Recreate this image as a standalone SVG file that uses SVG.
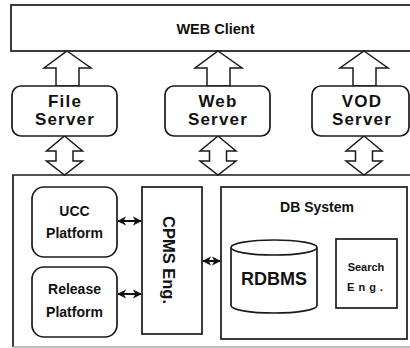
<svg xmlns="http://www.w3.org/2000/svg" width="410" height="348" viewBox="0 0 410 348">
<defs>
<marker id="ah" viewBox="0 0 10 10" refX="9" refY="5" markerWidth="4.6" markerHeight="4.6" orient="auto-start-reverse" markerUnits="strokeWidth">
<path d="M0,0 L10,5 L0,10 L3,5 Z" fill="#111"/>
</marker>
</defs>
<style>
.box{fill:#fff;stroke:#1a1a1a;stroke-width:1.7}
.hol{fill:#fff;stroke:#1a1a1a;stroke-width:1.5;stroke-linejoin:miter}
.lnk{stroke:#111;stroke-width:2;fill:none;marker-start:url(#ah);marker-end:url(#ah)}
text{font-family:"Liberation Sans",Arial,sans-serif;font-weight:bold;fill:#111;text-anchor:middle}
.srv{font-size:17px;letter-spacing:1.2px}
.plt{font-size:14px}
</style>
<rect width="410" height="348" fill="#fff"/>

<g id="web-client">
<rect class="box" x="11" y="5" width="410" height="46"/>
<text x="215.5" y="34" style="font-size:14.5px">WEB Client</text>
</g>

<g id="connectors">
<path class="hol" d="M67,51 L91,68 L79,68 L79,86 L56,86 L56,68 L44,68 Z"/>
<path class="hol" d="M218,51 L242,68 L230,68 L230,86 L207,86 L207,68 L195,68 Z"/>
<path class="hol" d="M364,51 L388,68 L376,68 L376,86 L353,86 L353,68 L340,68 Z"/>
<path class="hol" d="M64.5,136 L82.5,151 L73,151 L73,161 L82.5,161 L64.5,175 L46.5,161 L56,161 L56,151 L46.5,151 Z"/>
<path class="hol" d="M218,136 L236,151 L226.5,151 L226.5,161 L236,161 L218,175 L200,161 L209.5,161 L209.5,151 L200,151 Z"/>
<path class="hol" d="M364,136 L382,151 L372.5,151 L372.5,161 L382,161 L364,175 L346,161 L355.5,161 L355.5,151 L346,151 Z"/>
<line class="lnk" x1="118" y1="221" x2="141" y2="221"/>
<line class="lnk" x1="118" y1="294" x2="141" y2="294"/>
<line class="lnk" x1="203" y1="261" x2="220" y2="261"/>
<line class="lnk" x1="318" y1="270" x2="335" y2="270"/>
</g>

<g id="file-server">
<rect class="box" x="12" y="86" width="105" height="50" rx="9"/>
<text class="srv" x="65" y="107">File</text>
<text class="srv" x="65" y="125">Server</text>
</g>
<g id="web-server">
<rect class="box" x="165" y="86" width="105" height="50" rx="9"/>
<text class="srv" x="218" y="107">Web</text>
<text class="srv" x="218" y="125">Server</text>
</g>
<g id="vod-server">
<rect class="box" x="312" y="86" width="97" height="50" rx="9"/>
<text class="srv" x="362" y="107">VOD</text>
<text class="srv" x="362" y="125">Server</text>
</g>

<g id="platform-frame">
<path d="M13,347 L13,175 L412,175" fill="none" stroke="#1a1a1a" stroke-width="1.7"/>
<line x1="13" y1="347" x2="410" y2="347" stroke="#aaa" stroke-width="1.5"/>
</g>

<g id="ucc-platform">
<rect class="box" x="32" y="187" width="85" height="70" rx="12"/>
<text class="plt" x="74.5" y="216">UCC</text>
<text class="plt" x="74.5" y="238">Platform</text>
</g>
<g id="release-platform">
<rect class="box" x="32" y="267" width="85" height="70" rx="12"/>
<text class="plt" x="74.5" y="294">Release</text>
<text class="plt" x="74.5" y="317">Platform</text>
</g>
<g id="cpms-eng">
<rect class="box" x="142" y="187" width="60" height="147"/>
<text transform="translate(163,260) rotate(90)" style="font-size:16.5px">CPMS Eng.</text>
</g>
<g id="db-system">
<rect class="box" x="221" y="187" width="186" height="152"/>
<text x="317" y="212" style="font-size:14px">DB System</text>
</g>
<g id="rdbms">
<path class="box" d="M231,247.5 L231,305.5 A43,7.5 0 0 0 317,305.5 L317,247.5 A43,7.5 0 0 0 231,247.5 A43,7.5 0 0 0 317,247.5"/>
<text x="274" y="285" style="font-size:18px">RDBMS</text>
</g>
<g id="search-eng">
<rect class="box" x="336" y="239" width="61" height="69"/>
<text x="366" y="271" style="font-size:11px">Search</text>
<text x="367" y="291" style="font-size:11px;letter-spacing:4px">Eng.</text>
</g>
</svg>
